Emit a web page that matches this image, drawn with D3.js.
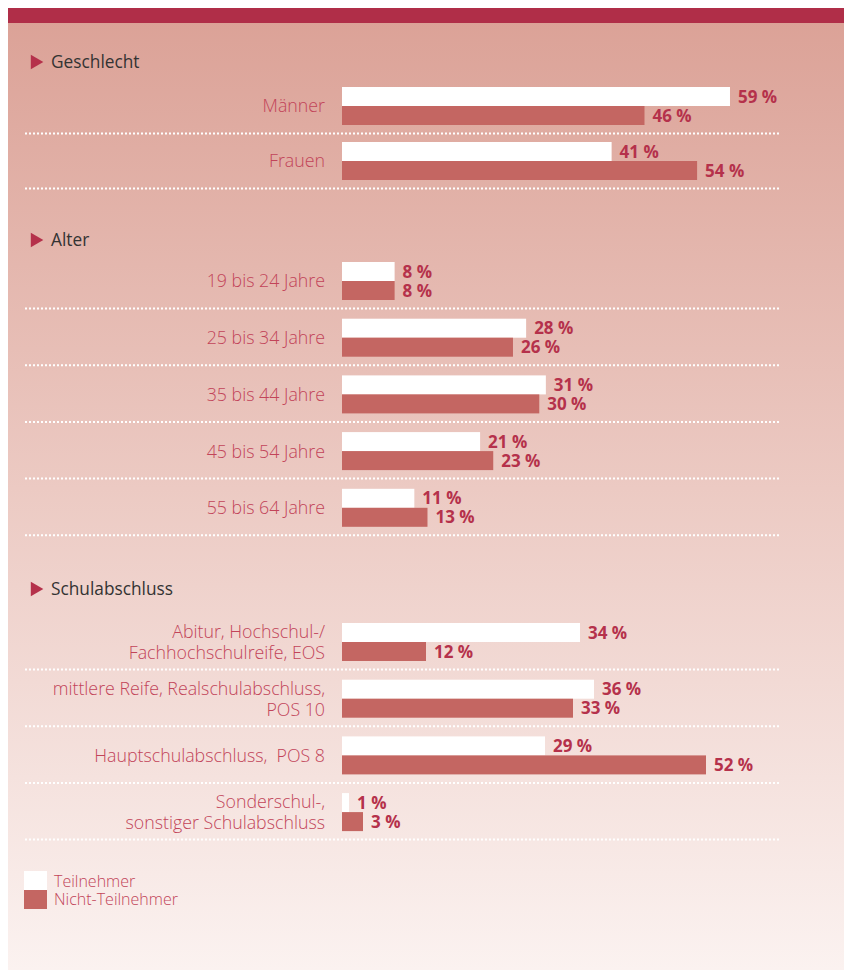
<!DOCTYPE html>
<html><head><meta charset="utf-8">
<script src="https://cdn.jsdelivr.net/npm/d3@7"></script>
<style>html,body{margin:0;padding:0;background:#fff;}svg{display:block;}</style>
</head><body>
<script>
// ---- data ----
const sectionTitles = ["Geschlecht", "Alter", "Schulabschluss"];
const genderCats = [["Männer"], ["Frauen"]];
const genderTeil = [59, 41];
const genderNicht = [46, 54];
const ageCats = [["19 bis 24 Jahre"], ["25 bis 34 Jahre"], ["35 bis 44 Jahre"], ["45 bis 54 Jahre"], ["55 bis 64 Jahre"]];
const ageTeil = [8, 28, 31, 21, 11];
const ageNicht = [8, 26, 30, 23, 13];
const schoolCats = [["Abitur, Hochschul-/", "Fachhochschulreife, EOS"], ["mittlere Reife, Realschulabschluss,", "POS 10"], ["Hauptschulabschluss,\u00a0 POS 8"], ["Sonderschul-,", "sonstiger Schulabschluss"]];
const schoolTeil = [34, 36, 29, 1];
const schoolNicht = [12, 33, 52, 3];
const legendLabels = ["Teilnehmer", "Nicht-Teilnehmer"];

// ---- layout ----
const W = 844, H = 970;
const cWhite = "#ffffff", cRed = "#c46662", cVal = "#b5314b", cLab = "#c24459", cTop = "#b02e48";
const svg = d3.select("body").append("svg").attr("width", W).attr("height", H);
const defs = svg.append("defs");
const grad = defs.append("linearGradient").attr("id", "bg").attr("x1", 0).attr("y1", 0).attr("x2", 0).attr("y2", 1);
grad.append("stop").attr("offset", "0%").attr("stop-color", "#dba196");
grad.append("stop").attr("offset", "50%").attr("stop-color", "#eccac3");
grad.append("stop").attr("offset", "100%").attr("stop-color", "#fbf2f0");
svg.append("rect").attr("x", 8).attr("y", 8).attr("width", W - 8).attr("height", H - 8).attr("fill", "url(#bg)");
svg.append("rect").attr("x", 8).attr("y", 8).attr("width", W - 8).attr("height", 15).attr("fill", cTop);

const labFont = "'Open Sans', sans-serif";
const valFont = "'Open Sans', sans-serif";
const sections = [
  {title: sectionTitles[0], cats: genderCats, t: genderTeil, n: genderNicht, hy: 62, top: 87, pitch: 55, span: 657.6},
  {title: sectionTitles[1], cats: ageCats, t: ageTeil, n: ageNicht, hy: 240, top: 262, pitch: 56.7, span: 657.6},
  {title: sectionTitles[2], cats: schoolCats, t: schoolTeil, n: schoolNicht, hy: 589, top: 623, pitch: 56.7, span: 700}
];
const barH = 19;
const x0 = 342;

sections.forEach(s => {
  const x = d3.scaleLinear().domain([0, 100]).range([x0, x0 + s.span]);
  const g = svg.append("g");
  // header
  g.append("path").attr("d", d3.symbol().type(d3.symbolTriangle).size(90)())
    .attr("transform", `translate(35,${s.hy}) rotate(90)`).attr("fill", cVal);
  g.append("text").attr("x", 51).attr("y", s.hy).attr("dy", "0.36em")
    .attr("font-family", labFont).attr("font-weight", 400).attr("font-size", 17.3).attr("fill", "#333").text(s.title);
  const y = d3.scaleLinear().domain([0, 1]).range([s.top, s.top + s.pitch]);
  s.cats.forEach((lines, i) => {
    const ry = y(i);
    // bars
    g.append("rect").attr("x", x(0)).attr("y", ry).attr("width", x(s.t[i]) - x(0)).attr("height", barH).attr("fill", cWhite);
    g.append("rect").attr("x", x(0)).attr("y", ry + barH).attr("width", x(s.n[i]) - x(0)).attr("height", barH).attr("fill", cRed);
    // values
    [[s.t[i], ry + barH / 2], [s.n[i], ry + barH * 1.5]].forEach(([v, yy]) => {
      g.append("text").attr("x", x(v) + 8).attr("y", yy).attr("dy", "0.36em")
        .attr("font-family", valFont).attr("font-weight", 700).attr("font-size", 17)
        .attr("fill", cVal).text(v + " %");
    });
    // category label
    const lh = 21;
    const cy = ry + barH;
    lines.forEach((ln, k) => {
      g.append("text").attr("x", 325).attr("y", cy + (k - (lines.length - 1) / 2) * lh).attr("dy", "0.36em")
        .attr("text-anchor", "end").attr("font-family", labFont).attr("font-weight", 300).attr("font-size", 17.8)
        .attr("fill", cLab).text(ln);
    });
    // dotted separator
    g.append("line").attr("x1", 25).attr("x2", 781).attr("y1", ry + 46.5).attr("y2", ry + 46.5)
      .attr("stroke", "#ffffff").attr("stroke-width", 2).attr("stroke-dasharray", "2,2");
  });
});

// legend
const lg = svg.append("g");
[cWhite, cRed].forEach((c, i) => {
  lg.append("rect").attr("x", 24).attr("y", 871 + i * 19).attr("width", 23).attr("height", 19).attr("fill", c);
  lg.append("text").attr("x", 54).attr("y", 881 + i * 18).attr("dy", "0.36em")
    .attr("font-family", labFont).attr("font-weight", 300).attr("font-size", 16).attr("fill", cLab).text(legendLabels[i]);
});
</script>
</body></html>
